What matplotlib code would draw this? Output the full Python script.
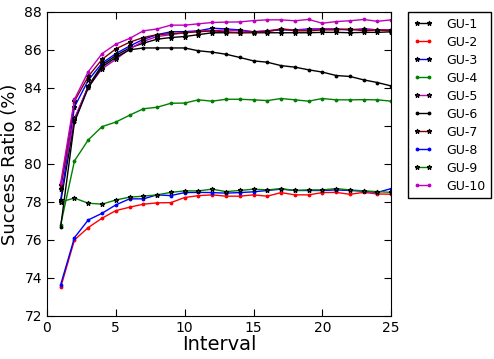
import matplotlib
matplotlib.use("Agg")
import matplotlib.pyplot as plt

interval = list(range(1, 26))

gu1 = [78.0, 82.3, 84.1, 85.2, 85.7, 86.1, 86.35, 86.56, 86.65, 86.7, 86.8, 86.9, 86.9,
       86.9, 86.9, 86.9, 86.9, 86.9, 86.9, 86.92, 86.92, 86.9, 86.92, 86.92, 86.95]
gu2 = [73.5, 76.0, 76.65, 77.14, 77.54, 77.72, 77.88, 77.95, 77.96, 78.23, 78.33, 78.37, 78.3,
       78.3, 78.37, 78.3, 78.49, 78.37, 78.37, 78.49, 78.5, 78.4, 78.5, 78.42, 78.4]
gu3 = [78.1, 83.0, 84.4, 85.3, 85.8, 86.2, 86.55, 86.8, 86.95, 86.96, 87.0, 87.14, 87.1,
       87.05, 86.95, 87.0, 87.05, 87.05, 87.1, 87.1, 87.1, 87.05, 87.1, 87.05, 87.05]
gu4 = [76.8, 80.16, 81.26, 81.96, 82.2, 82.56, 82.9, 82.98, 83.19, 83.2, 83.37, 83.3, 83.4,
       83.4, 83.37, 83.33, 83.44, 83.37, 83.3, 83.44, 83.37, 83.37, 83.38, 83.37, 83.3]
gu5 = [78.9, 82.4, 84.05, 85.0, 85.5, 86.05, 86.45, 86.7, 86.8, 86.9, 87.0, 87.0, 87.05,
       87.0, 86.95, 87.0, 87.1, 87.05, 87.05, 87.1, 87.1, 87.05, 87.1, 87.05, 87.05]
gu6 = [76.7, 82.2, 84.0, 85.1, 85.6, 86.0, 86.1, 86.1, 86.1, 86.1, 85.95, 85.88, 85.77,
       85.6, 85.42, 85.35, 85.17, 85.09, 84.95, 84.83, 84.65, 84.6, 84.42, 84.28, 84.1]
gu7 = [78.7, 83.3, 84.6, 85.5, 86.05, 86.4, 86.65, 86.8, 86.85, 86.9, 86.95, 87.0, 86.95,
       86.9, 86.95, 86.95, 87.1, 87.0, 87.0, 87.05, 87.05, 87.1, 87.0, 87.05, 87.0]
gu8 = [73.65, 76.12, 77.05, 77.4, 77.84, 78.16, 78.16, 78.37, 78.33, 78.49, 78.5, 78.49, 78.46,
       78.49, 78.53, 78.6, 78.67, 78.6, 78.6, 78.6, 78.63, 78.6, 78.56, 78.5, 78.7]
gu9 = [78.0, 78.2, 77.93, 77.88, 78.1, 78.25, 78.3, 78.37, 78.5, 78.58, 78.58, 78.67, 78.54,
       78.6, 78.67, 78.63, 78.7, 78.6, 78.63, 78.63, 78.7, 78.63, 78.58, 78.54, 78.5]
gu10 = [79.0, 83.4, 84.85, 85.8, 86.3, 86.6, 87.0, 87.1, 87.3, 87.3, 87.37, 87.44, 87.46,
        87.47, 87.54, 87.58, 87.58, 87.53, 87.6, 87.4, 87.49, 87.53, 87.6, 87.5, 87.58]

names = ["GU-1", "GU-2", "GU-3", "GU-4", "GU-5", "GU-6", "GU-7", "GU-8", "GU-9", "GU-10"]
series = [gu1, gu2, gu3, gu4, gu5, gu6, gu7, gu8, gu9, gu10]
colors = ["k", "r", "b", "g", (0.75, 0, 0.75), "k", "#800000", "b", "g", (0.75, 0, 0.75)]
markers = ["*", ".", "*", ".", "*", ".", "*", ".", "*", "."]

fig = plt.figure(figsize=(4.94, 3.59), dpi=100)
ax = fig.add_axes([0.095, 0.12, 0.697, 0.847])

for name, y, c, m in zip(names, series, colors, markers):
    if m == "*":
        ax.plot(interval, y, color=c, marker=m, ms=3.5, mec="k", mfc=c, mew=0.8, lw=1, label=name)
    else:
        ax.plot(interval, y, color=c, marker=m, ms=3.5, mec=c, mfc=c, lw=1, label=name)

ax.set_xlim(0, 25)
ax.set_ylim(72, 88)
ax.set_xticks([0, 5, 10, 15, 20, 25])
ax.set_yticks(range(72, 89, 2))
ax.tick_params(direction="in", top=True, right=True, labelsize=10, length=5)
ax.set_xlabel("Interval", fontsize=14, labelpad=0)
ax.set_ylabel("Success Ratio (%)", fontsize=13)

fig.legend(loc="upper left", bbox_to_anchor=(408 / 494, 1 - 12 / 359), fontsize=9,
           fancybox=False, edgecolor="k", framealpha=1, handlelength=1.5, numpoints=2,
           labelspacing=0.4, handletextpad=1.1, borderpad=0.45, borderaxespad=0)
fig.savefig("out.png", dpi=100)
